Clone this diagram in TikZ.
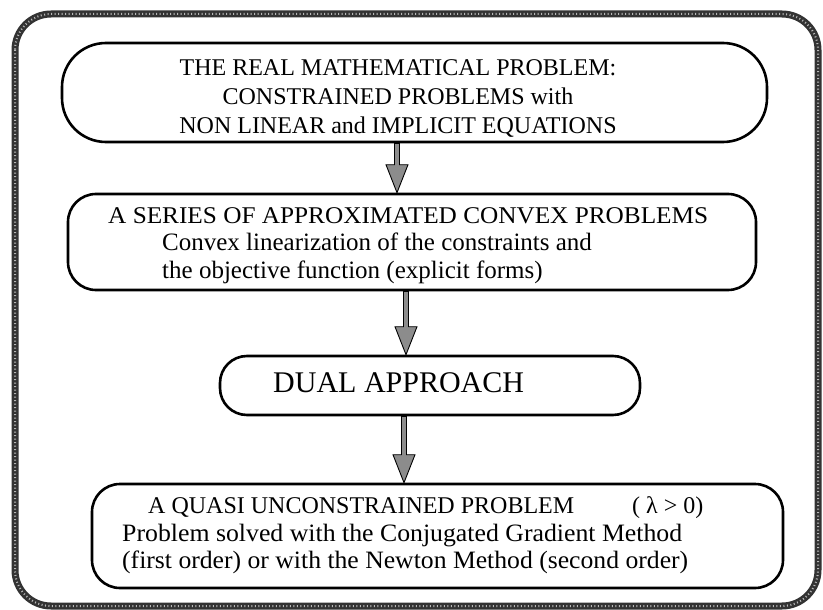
\documentclass[tikz,border=0pt]{standalone}
\usepackage{fontspec}
\setmainfont{Liberation Serif}
\usetikzlibrary{calc}
\begin{document}
\begin{tikzpicture}[x=1pt,y=-1pt,
  box/.style={draw=black, line width=2.6pt, rounded corners=#1, inner sep=0pt},
  txt/.style={inner sep=0pt, anchor=base west},
  ctxt/.style={inner sep=0pt, anchor=base},
  arrowsty/.style={draw=black, line width=0.9pt, fill=black!45, line join=miter},
  capsf/.style={font=\fontsize{24}{28}\selectfont},
  lowf/.style={font=\fontsize{25}{29}\selectfont},
  bigf/.style={font=\fontsize{30}{34}\selectfont}]
\useasboundingbox (0,0) rectangle (823,610);
% outer frame
\draw[line width=7pt, black!80, rounded corners=36pt] (15,14) rectangle (818,606);
\draw[line width=2pt, gray!55, dash pattern=on 1pt off 2.5pt, rounded corners=36pt] (15,14) rectangle (818,606);
% boxes
\node[box=44pt, minimum width=705pt, minimum height=99pt] (b1) at (414.5,92.5) {};
\node[box=28pt, minimum width=688pt, minimum height=96pt] (b2) at (412,242) {};
\node[box=27pt, minimum width=420pt, minimum height=59pt] (b3) at (430,385.5) {};
\node[box=28pt, minimum width=691pt, minimum height=104pt] (b4) at (437.5,536) {};
% texts
\node[ctxt, capsf] (t11) at (398,76) {THE REAL MATHEMATICAL PROBLEM:};
\node[ctxt, capsf] (t12) at (398,105) {CONSTRAINED PROBLEMS with};
\node[ctxt, capsf] (t13) at (398,134) {NON LINEAR and IMPLICIT EQUATIONS};
\node[txt, capsf] (t21) at (108,223) {\resizebox{600pt}{\height}{A SERIES OF APPROXIMATED CONVEX PROBLEMS}};
\node[txt, lowf] (t22) at (162,250) {Convex linearization of the constraints and};
\node[txt, lowf] (t23) at (162,278) {the objective function (explicit forms)};
\node[txt, bigf] (t31) at (273,392) {DUAL APPROACH};
\node[txt, capsf] (t41) at (148,513) {A QUASI UNCONSTRAINED PROBLEM};
\node[txt, capsf] (t41b) at (632,513) {( λ > 0)};
\node[txt, lowf] (t42) at (122,541) {\resizebox{560pt}{\height}{Problem solved with the Conjugated Gradient Method}};
\node[txt, lowf] (t43) at (122,568) {\resizebox{566pt}{\height}{(first order) or with the Newton Method (second order)}};
% arrows
\newcommand\fatarrow[2]{%
  \draw[arrowsty] ($(#1)+(-2.5,0)$) -- ($(#2)+(-2.5,-28)$) -- ($(#2)+(-11,-28)$) -- (#2)
    -- ($(#2)+(11,-28)$) -- ($(#2)+(2.5,-28)$) -- ($(#1)+(2.5,0)$) -- cycle;}
\coordinate (a1s) at ($(b1.south)+(-17.5,0)$);
\coordinate (a1e) at ($(b2.north)+(-15,0)$);
\coordinate (a2s) at ($(b2.south)+(-6,0)$);
\coordinate (a2e) at ($(b3.north)+(-24,0)$);
\coordinate (a3s) at ($(b3.south)+(-26,0)$);
\coordinate (a3e) at ($(b4.north)+(-33.5,0)$);
\fatarrow{a1s}{a1e}
\fatarrow{a2s}{a2e}
\fatarrow{a3s}{a3e}
\end{tikzpicture}
\end{document}
